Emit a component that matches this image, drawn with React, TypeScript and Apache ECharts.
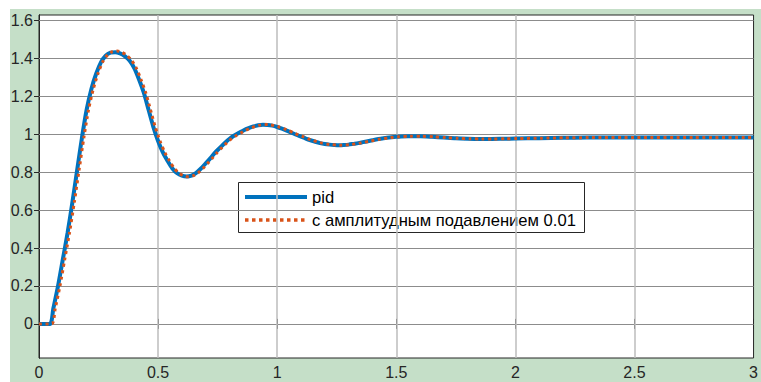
import React, { useEffect, useRef } from "react";
import * as echarts from "echarts";

const pidT = [0, 0.046, 0.06, 0.08, 0.10, 0.12, 0.14, 0.16, 0.18, 0.20, 0.22, 0.24, 0.26, 0.28, 0.30, 0.32, 0.34, 0.36, 0.38, 0.40, 0.42, 0.44, 0.46, 0.48, 0.50, 0.52, 0.54, 0.56, 0.58, 0.60, 0.62, 0.64, 0.66, 0.68, 0.70, 0.72, 0.74, 0.76, 0.78, 0.80, 0.82, 0.84, 0.86, 0.88, 0.90, 0.92, 0.94, 0.96, 0.98, 1.00, 1.02, 1.04, 1.06, 1.08, 1.10, 1.12, 1.14, 1.16, 1.18, 1.20, 1.22, 1.24, 1.26, 1.28, 1.30, 1.32, 1.34, 1.36, 1.38, 1.40, 1.42, 1.44, 1.46, 1.48, 1.50, 1.55, 1.60, 1.65, 1.70, 1.75, 1.80, 1.85, 1.90, 1.95, 2.0, 2.1, 2.2, 2.3, 2.5, 2.75, 3.0];
const pidV = [0, 0, 0.08, 0.2, 0.34, 0.48, 0.64, 0.81, 0.98, 1.13, 1.24, 1.32, 1.38, 1.415, 1.431, 1.433, 1.427, 1.413, 1.39, 1.35, 1.29, 1.22, 1.13, 1.04, 0.965, 0.905, 0.86, 0.82, 0.795, 0.782, 0.778, 0.783, 0.797, 0.82, 0.847, 0.875, 0.905, 0.93, 0.955, 0.977, 0.994, 1.008, 1.022, 1.033, 1.042, 1.048, 1.051, 1.05, 1.046, 1.039, 1.03, 1.02, 1.009, 0.998, 0.988, 0.978, 0.969, 0.961, 0.954, 0.949, 0.946, 0.944, 0.943, 0.944, 0.946, 0.95, 0.954, 0.959, 0.964, 0.969, 0.974, 0.978, 0.982, 0.985, 0.987, 0.99, 0.99, 0.987, 0.983, 0.979, 0.977, 0.976, 0.976, 0.977, 0.978, 0.98, 0.982, 0.983, 0.983, 0.983, 0.983];

const ampT = [0, 0.054, 0.068, 0.088, 0.108, 0.128, 0.148, 0.168, 0.188, 0.208, 0.228, 0.248, 0.268, 0.288, 0.308, 0.328, 0.348, 0.368, 0.388, 0.408, 0.428, 0.448, 0.468, 0.488, 0.508, 0.528, 0.548, 0.568, 0.588, 0.608, 0.628, 0.648, 0.668, 0.688, 0.708, 0.728, 0.748, 0.768, 0.788, 0.808, 0.828, 0.848, 0.868, 0.888, 0.908, 0.928, 0.948, 0.968, 0.988, 1.008, 1.028, 1.048, 1.068, 1.088, 1.108, 1.128, 1.148, 1.168, 1.188, 1.208, 1.228, 1.248, 1.268, 1.288, 1.308, 1.328, 1.348, 1.368, 1.388, 1.408, 1.428, 1.448, 1.468, 1.488, 1.508, 1.558, 1.608, 1.658, 1.708, 1.758, 1.808, 1.858, 1.908, 1.958, 2.008, 2.108, 2.208, 2.308, 2.5, 2.75, 3.0];
const ampV = [0, 0, 0.08, 0.2, 0.34, 0.48, 0.64, 0.81, 0.98, 1.13, 1.24, 1.322, 1.384, 1.42, 1.437, 1.44, 1.433, 1.417, 1.392, 1.351, 1.29, 1.22, 1.13, 1.04, 0.965, 0.905, 0.86, 0.82, 0.795, 0.781, 0.776, 0.782, 0.797, 0.82, 0.847, 0.875, 0.905, 0.93, 0.955, 0.977, 0.994, 1.008, 1.022, 1.033, 1.042, 1.049, 1.052, 1.051, 1.046, 1.039, 1.03, 1.02, 1.009, 0.998, 0.988, 0.978, 0.969, 0.961, 0.954, 0.949, 0.946, 0.944, 0.943, 0.944, 0.946, 0.95, 0.954, 0.959, 0.964, 0.969, 0.974, 0.978, 0.982, 0.985, 0.987, 0.99, 0.99, 0.987, 0.983, 0.979, 0.977, 0.976, 0.976, 0.977, 0.978, 0.98, 0.982, 0.983, 0.983, 0.983, 0.983];

const yTicks = [0, 0.2, 0.4, 0.6, 0.8, 1, 1.2, 1.4, 1.6];
const xTicks = [0, 0.5, 1, 1.5, 2, 2.5, 3];
const legendNames = ["pid", "с амплитудным подавлением 0.01"];

const FONT = "'Liberation Sans', Arial, sans-serif";
const TXT = "#262626";

export default function App() {
  const ref = useRef<HTMLDivElement>(null);
  useEffect(() => {
    if (!ref.current) return;
    const chart = echarts.init(ref.current, null, { renderer: "svg" });
    const yMin = -0.18;
    const yMax = 1.63;
    const hLines = yTicks.map((v) => ({ yAxis: v }));
    const vLines = xTicks.slice(1, -1).map((v) => ({ xAxis: v }));
    chart.setOption({
      animation: false,
      backgroundColor: "#ffffff",
      textStyle: { fontFamily: FONT },
      grid: {
        left: 39, top: 15, right: 5, bottom: 24,
        show: true, backgroundColor: "#ffffff", borderColor: TXT, borderWidth: 1,
      },
      xAxis: [
        {
          type: "value", min: 0, max: 3, interval: 0.5,
          axisLine: { show: true, lineStyle: { color: TXT } },
          axisTick: { show: true, inside: true, length: 5, lineStyle: { color: TXT } },
          axisLabel: { color: TXT, fontSize: 16, margin: 6, fontFamily: FONT, formatter: (v: number) => String(v) },
          splitLine: { show: false },
        },
        {
          type: "value", min: 0, max: 3, interval: 0.5, position: "top",
          axisLine: { show: true, lineStyle: { color: TXT } },
          axisTick: { show: true, inside: true, length: 5, lineStyle: { color: TXT } },
          axisLabel: { show: false },
          splitLine: { show: false },
        },
      ],
      yAxis: [
        {
          type: "value", min: yMin, max: yMax,
          axisLine: { show: true, lineStyle: { color: TXT } },
          axisTick: { show: true, inside: true, length: 5, customValues: yTicks, lineStyle: { color: TXT } },
          axisLabel: { color: TXT, fontSize: 16, margin: 6, fontFamily: FONT, customValues: yTicks, formatter: (v: number) => String(v) },
          splitLine: { show: false },
        },
        {
          type: "value", min: yMin, max: yMax, position: "right",
          axisLine: { show: true, lineStyle: { color: TXT } },
          axisTick: { show: true, inside: true, length: 5, customValues: yTicks, lineStyle: { color: TXT } },
          axisLabel: { show: false, customValues: yTicks },
          splitLine: { show: false },
        },
      ],
      graphic: [
        {
          type: "rect", z: -10, silent: true,
          shape: { x: 10, y: 9, width: 751, height: 373 },
          style: { fill: "#c5dfc8" },
        },
        {
          type: "group", z: 100,
          children: [
            { type: "rect", shape: { x: 238.5, y: 182.5, width: 346, height: 50 }, style: { fill: "#ffffff", stroke: TXT, lineWidth: 1 } },
            { type: "line", shape: { x1: 245, y1: 197, x2: 307, y2: 197 }, style: { stroke: "#0072bd", lineWidth: 4 } },
            { type: "line", shape: { x1: 245, y1: 220, x2: 307, y2: 220 }, style: { stroke: "#d95319", lineWidth: 3.5, lineDash: [3.5, 3.5] } },
            { type: "text", x: 312, y: 197, style: { text: legendNames[0], font: `16.6px ${FONT}`, fill: "#000000", verticalAlign: "middle" } },
            { type: "text", x: 312, y: 220, style: { text: legendNames[1], font: `16.6px ${FONT}`, fill: "#000000", verticalAlign: "middle" } },
          ],
        },
      ],
      series: [
        {
          type: "line", name: "grid-h", data: [], silent: true,
          markLine: {
            silent: true, symbol: "none", label: { show: false },
            lineStyle: { color: "#8c8c8c", width: 1, type: "solid" },
            data: hLines,
          },
          z: 1,
        },
        {
          type: "line", name: "grid-v", data: [], silent: true,
          markLine: {
            silent: true, symbol: "none", label: { show: false },
            lineStyle: { color: "#bdbdbd", width: 1.5, type: "solid" },
            data: vLines,
          },
          z: 1,
        },
        {
          type: "line", name: legendNames[0],
          data: pidT.map((t, i) => [t, pidV[i]]),
          showSymbol: false, smooth: 0.25,
          lineStyle: { color: "#0072bd", width: 4 },
          z: 5,
        },
        {
          type: "line", name: legendNames[1],
          data: ampT.map((t, i) => [t, ampV[i]]),
          showSymbol: false, smooth: 0.25,
          lineStyle: { color: "#d95319", width: 3, type: [3, 3.5] },
          z: 6,
        },
      ],
    });
    return () => chart.dispose();
  }, []);
  return (
    <div style={{ position: "absolute", left: 0, top: 0, width: 761, height: 382, background: "#fff" }}>
      <div ref={ref} style={{ width: 761, height: 382 }} />
    </div>
  );
}
